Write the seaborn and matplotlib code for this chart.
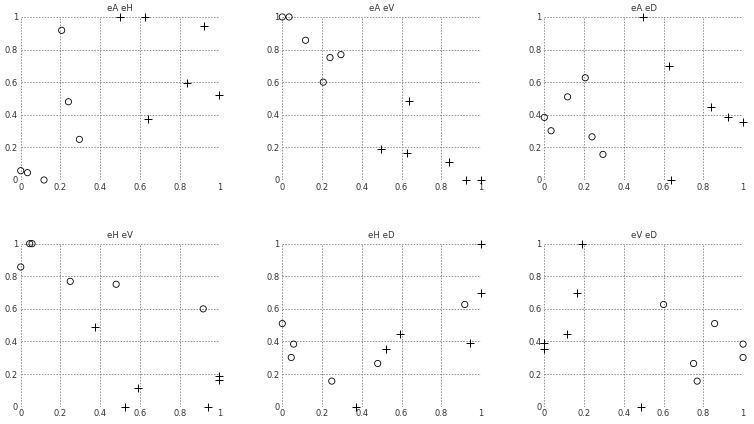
import matplotlib
matplotlib.use("Agg")
import matplotlib.pyplot as plt
import seaborn as sns
import pandas as pd

# group drawn with circles
eA_o = [0.0, 0.034, 0.117, 0.206, 0.24, 0.295]
eH_o = [0.057, 0.045, 0.0, 0.918, 0.48, 0.249]
eV_o = [1.0, 1.0, 0.857, 0.6, 0.751, 0.769]
eD_o = [0.384, 0.302, 0.51, 0.627, 0.265, 0.157]

# group drawn with pluses
eA_p = [0.497, 0.626, 0.923, 0.839, 1.0, 0.639]
eH_p = [1.0, 1.0, 0.943, 0.592, 0.524, 0.373]
eV_p = [0.188, 0.163, 0.0, 0.112, 0.0, 0.486]
eD_p = [1.0, 0.70, 0.388, 0.445, 0.353, 0.0]

pairs = [("eA", "eH"), ("eA", "eV"), ("eA", "eD"),
         ("eH", "eV"), ("eH", "eD"), ("eV", "eD")]
ticks = [0, 0.2, 0.4, 0.6, 0.8, 1]
tick_labels = ["0", "0.2", "0.4", "0.6", "0.8", "1"]

df_o = pd.DataFrame({"eA": eA_o, "eH": eH_o, "eV": eV_o, "eD": eD_o})
df_p = pd.DataFrame({"eA": eA_p, "eH": eH_p, "eV": eV_p, "eD": eD_p})

sns.set_style("white")
plt.rcParams['font.family'] = ['DejaVu Sans']

fig = plt.figure(figsize=(7.54, 4.24), dpi=100)

# axes boxes in figure fractions (left, bottom, width, height)
lefts = [0.0275, 0.3744, 0.7219]
bottoms = [0.5755, 0.0408]
w = 0.2636
h = 0.3845

for k, (xv, yv) in enumerate(pairs):
    ax = fig.add_axes([lefts[k % 3], bottoms[k // 3], w, h])
    sns.scatterplot(data=df_o, x=xv, y=yv, ax=ax, marker="o", s=20,
                    facecolors="none", edgecolor="black", linewidth=0.6,
                    clip_on=False, zorder=3)
    sns.scatterplot(data=df_p, x=xv, y=yv, ax=ax, marker="+", s=34,
                    color="black", linewidth=0.7, clip_on=False, zorder=3)
    ax.set_xlim(0, 1)
    ax.set_ylim(0, 1)
    ax.set_xticks(ticks)
    ax.set_yticks(ticks)
    ax.set_xticklabels(tick_labels)
    ax.set_yticklabels(tick_labels)
    ax.tick_params(length=0, labelsize=6, colors="#333333", pad=2)
    ax.grid(True, linestyle=(0, (1.5, 1.5)), color="#8c8c8c", linewidth=0.7)
    ax.set_axisbelow(True)
    for sp in ax.spines.values():
        sp.set_visible(False)
    ax.set_xlabel("")
    ax.set_ylabel("")
    ax.set_title(xv + " " + yv, fontsize=6.2, color="#333333", pad=4)

fig.savefig("out.png", dpi=100)
